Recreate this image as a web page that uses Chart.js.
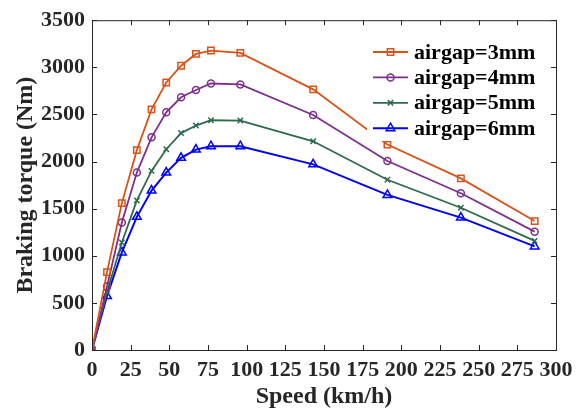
<!DOCTYPE html>
<html>
<head>
<meta charset="utf-8">
<script src="https://cdn.jsdelivr.net/npm/chart.js@4.4.0/dist/chart.umd.min.js"></script>
<style>
  html, body { margin: 0; padding: 0; background: #fff; }
  #caixa { width: 581px; height: 411px; }
</style>
</head>
<body>
<div id="caixa"><canvas id="grafico-torque"></canvas></div>
<script>
// velocidade (km/h) e torque de frenagem (Nm)
const velocidade = [0, 9.7, 19.3, 29, 38.5, 48, 57.6, 67.2, 76.9, 95.9, 143, 191, 238.5, 286.2]
const torque3mm = [0, 827, 1559, 2121, 2553, 2839, 3017, 3142, 3178, 3153, 2766, 2180, 1821, 1368]
const torque4mm = [0, 673, 1353, 1883, 2257, 2522, 2682, 2759, 2828, 2818, 2494, 2006, 1664, 1256]
const torque5mm = [0, 615, 1141, 1587, 1901, 2131, 2302, 2382, 2438, 2435, 2215, 1807, 1510, 1158]
const torque6mm = [0, 572, 1036, 1413, 1692, 1883, 2040, 2127, 2163, 2163, 1970, 1646, 1405, 1099]
const nomesSeries = ['airgap=3mm', 'airgap=4mm', 'airgap=5mm', 'airgap=6mm']
const ticksX = [0, 25, 50, 75, 100, 125, 150, 175, 200, 225, 250, 275, 300]
const ticksY = [0, 500, 1000, 1500, 2000, 2500, 3000, 3500]

const fonte = "'Liberation Serif', 'Times New Roman', serif"
const corEixo = '#262626'

// estilo de cada curva (cor, marcador)
const estilos = [
  { cor: '#D95319', marcador: 'rect', raio: 4.5, largura: 1.8 },
  { cor: '#7E2F8E', marcador: 'circle', raio: 3.5, largura: 1.8 },
  { cor: '#2E6B4A', marcador: 'crossRot', raio: 3.8, largura: 1.8 },
  { cor: '#0000FF', marcador: 'triangle', raio: 5, largura: 2 }
]
const valoresSeries = [torque3mm, torque4mm, torque5mm, torque6mm]

const datasets = valoresSeries.map((valores, i) => ({
  label: nomesSeries[i],
  data: velocidade.map((v, j) => ({ x: v, y: valores[j] })),
  showLine: true,
  borderColor: estilos[i].cor,
  borderWidth: estilos[i].largura,
  backgroundColor: 'rgba(0,0,0,0)',
  pointStyle: estilos[i].marcador,
  pointRadius: estilos[i].raio,
  pointBorderWidth: 1.5,
  pointBorderColor: estilos[i].cor,
  pointBackgroundColor: 'rgba(0,0,0,0)',
  tension: 0
}))

function desenharMarcador(ctx, tipo, x, y, r) {
  ctx.beginPath()
  if (tipo === 'rect') {
    const s = r * Math.SQRT1_2
    ctx.rect(x - s, y - s, 2 * s, 2 * s)
  } else if (tipo === 'circle') {
    ctx.arc(x, y, r, 0, Math.PI * 2)
  } else if (tipo === 'crossRot') {
    const s = r * Math.SQRT1_2
    ctx.moveTo(x - s, y - s); ctx.lineTo(x + s, y + s)
    ctx.moveTo(x + s, y - s); ctx.lineTo(x - s, y + s)
  } else if (tipo === 'triangle') {
    ctx.moveTo(x, y - r)
    ctx.lineTo(x + r * 0.866, y + r * 0.5)
    ctx.lineTo(x - r * 0.866, y + r * 0.5)
    ctx.closePath()
  }
  ctx.stroke()
}

// caixa dos eixos com ticks para dentro (estilo MATLAB)
const pluginCaixa = {
  id: 'caixaEixos',
  afterDatasetsDraw(chart) {
    const { ctx, chartArea: a, scales } = chart
    ctx.save()
    ctx.strokeStyle = corEixo
    ctx.lineWidth = 1
    ctx.strokeRect(a.left + 0.5, a.top + 0.5, a.right - a.left, a.bottom - a.top)
    ctx.beginPath()
    ticksX.forEach(v => {
      const px = Math.round(scales.x.getPixelForValue(v)) + 0.5
      ctx.moveTo(px, a.bottom); ctx.lineTo(px, a.bottom - 5)
      ctx.moveTo(px, a.top); ctx.lineTo(px, a.top + 5)
    })
    ticksY.forEach(v => {
      const py = Math.round(scales.y.getPixelForValue(v)) + 0.5
      ctx.moveTo(a.left, py); ctx.lineTo(a.left + 5, py)
      ctx.moveTo(a.right, py); ctx.lineTo(a.right - 5, py)
    })
    ctx.stroke()
    ctx.restore()
  }
}

// legenda dentro da área do gráfico, com linha + marcador
const pluginLegenda = {
  id: 'legendaInterna',
  afterDraw(chart) {
    const { ctx } = chart
    ctx.save()
    ctx.fillStyle = '#fff'
    ctx.fillRect(367, 38, 178, 103)
    ctx.font = 'bold 22px ' + fonte
    ctx.textBaseline = 'middle'
    chart.data.datasets.forEach((ds, i) => {
      const y = 52 + i * 25.4
      const e = estilos[i]
      ctx.strokeStyle = e.cor
      ctx.lineWidth = e.largura
      ctx.beginPath()
      ctx.moveTo(373, y); ctx.lineTo(408, y)
      ctx.stroke()
      ctx.lineWidth = 1.5
      desenharMarcador(ctx, e.marcador, 390.5, y, e.raio)
      ctx.fillStyle = '#000'
      ctx.fillText(ds.label, 414, y + 1)
    })
    ctx.restore()
  }
}

new Chart(document.getElementById('grafico-torque'), {
  type: 'scatter',
  data: { datasets },
  options: {
    responsive: true,
    maintainAspectRatio: false,
    animation: false,
    layout: { padding: { left: 0, top: 12, right: 25, bottom: 0 } },
    scales: {
      x: {
        type: 'linear',
        min: 0,
        max: 300,
        afterBuildTicks: s => { s.ticks = ticksX.map(v => ({ value: v })) },
        afterFit: s => { s.height = 61 },
        grid: { display: false, drawTicks: false },
        border: { display: false },
        ticks: {
          color: corEixo,
          padding: 7,
          font: { family: fonte, size: 22, weight: 'bold' },
          maxRotation: 0,
          autoSkip: false,
          callback: v => String(v)
        },
        title: {
          display: true,
          text: 'Speed (km/h)',
          color: corEixo,
          padding: { top: 0, bottom: 0 },
          font: { family: fonte, size: 24, weight: 'bold' }
        }
      },
      y: {
        type: 'linear',
        min: 0,
        max: 3500,
        afterBuildTicks: s => { s.ticks = ticksY.map(v => ({ value: v })) },
        afterFit: s => { s.width = 92 },
        grid: { display: false, drawTicks: false },
        border: { display: false },
        ticks: {
          color: corEixo,
          padding: 7,
          font: { family: fonte, size: 22, weight: 'bold' },
          autoSkip: false,
          callback: v => String(v)
        },
        title: {
          display: true,
          text: 'Braking torque (Nm)',
          color: corEixo,
          padding: { top: 11, bottom: 0 },
          font: { family: fonte, size: 24, weight: 'bold' }
        }
      }
    },
    plugins: {
      legend: { display: false },
      tooltip: { enabled: false }
    }
  },
  plugins: [pluginCaixa, pluginLegenda]
})
</script>
</body>
</html>
